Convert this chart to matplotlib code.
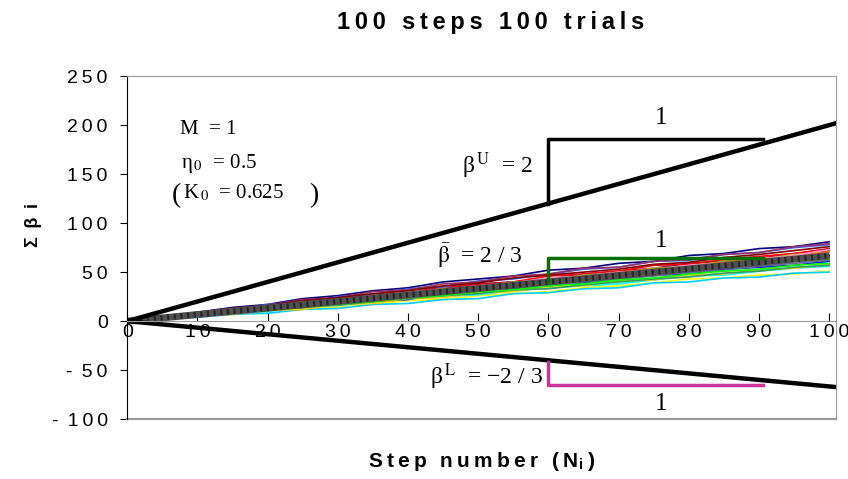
"""100 steps 100 trials: cumulative beta random walks with bounding slopes."""
import matplotlib
matplotlib.use("Agg")
import matplotlib.pyplot as plt

matplotlib.rcParams["font.family"] = ["Liberation Sans", "DejaVu Sans"]
matplotlib.rcParams["mathtext.fontset"] = "stix"

# --- data ---
steps = [0, 5, 10, 15, 20, 25, 30, 35, 40, 45, 50, 55, 60, 65, 70, 75, 80, 85, 90, 95, 100]
trials = [
    [0, 5, 9, 14, 17, 23, 26, 31, 34, 40, 43, 46, 52, 54, 59, 61, 67, 69, 74, 76, 81],
    [0, 2, 5, 7, 10, 12, 14, 17, 21, 22, 26, 28, 30, 34, 36, 39, 43, 44, 47, 48, 51],
    [0, 4, 7, 12, 14, 18, 21, 24, 29, 31, 34, 39, 42, 44, 49, 51, 56, 59, 61, 66, 69],
    [0, 2, 6, 8, 10, 14, 18, 19, 23, 25, 27, 31, 34, 36, 38, 42, 46, 47, 51, 54, 56],
    [0, 3, 8, 11, 14, 19, 22, 26, 28, 33, 38, 40, 43, 48, 51, 54, 59, 61, 64, 69, 72],
    [0, 3, 6, 10, 12, 14, 19, 21, 26, 28, 31, 35, 37, 41, 45, 47, 50, 55, 56, 61, 63],
    [0, 4, 7, 12, 15, 18, 23, 27, 29, 35, 37, 40, 46, 48, 51, 57, 58, 63, 66, 69, 74],
    [0, 3, 5, 9, 11, 13, 18, 20, 22, 28, 29, 33, 37, 39, 43, 47, 48, 53, 55, 57, 61],
    [0, 4, 9, 11, 17, 19, 25, 27, 33, 35, 41, 43, 48, 53, 55, 61, 62, 68, 70, 75, 78],
    [0, 3, 7, 9, 14, 15, 20, 24, 25, 31, 32, 37, 39, 42, 47, 48, 54, 55, 60, 62, 66],
    [0, 3, 6, 11, 12, 17, 21, 23, 28, 29, 35, 36, 41, 43, 48, 50, 55, 56, 61, 63, 67],
    [0, 2, 4, 7, 8, 12, 13, 17, 18, 22, 23, 28, 29, 33, 34, 39, 40, 44, 45, 49, 50],
    [0, 5, 8, 13, 16, 22, 24, 30, 32, 38, 40, 46, 48, 54, 55, 61, 63, 68, 70, 76, 79],
    [0, 3, 6, 10, 12, 17, 18, 24, 25, 30, 32, 37, 38, 43, 45, 50, 51, 57, 58, 63, 65],
    [0, 4, 6, 11, 13, 19, 20, 26, 27, 33, 34, 40, 41, 47, 49, 54, 56, 61, 63, 68, 70],
    [0, 2, 6, 7, 11, 12, 17, 18, 23, 24, 29, 30, 35, 36, 41, 42, 47, 48, 53, 54, 58],
    [0, 4, 7, 12, 13, 19, 20, 25, 27, 32, 34, 39, 41, 46, 48, 53, 54, 60, 61, 67, 69],
    [0, 3, 7, 9, 14, 16, 21, 22, 28, 29, 34, 36, 41, 42, 48, 49, 54, 56, 61, 62, 67],
    [0, 4, 8, 10, 15, 17, 21, 24, 27, 31, 36, 38, 43, 45, 50, 53, 56, 60, 64, 66, 71],
    [0, 2, 5, 9, 11, 15, 16, 20, 23, 26, 28, 32, 33, 37, 40, 43, 45, 49, 51, 55, 57],
    [0, 4, 8, 11, 15, 18, 22, 25, 30, 32, 36, 39, 44, 46, 50, 52, 57, 59, 63, 67, 73],
    [0, 3, 6, 9, 13, 16, 19, 21, 24, 27, 31, 34, 36, 40, 43, 46, 50, 52, 56, 59, 62],
    [0, 4, 9, 13, 16, 21, 24, 28, 31, 36, 39, 44, 47, 50, 53, 58, 60, 65, 68, 72, 76],
    [0, 2, 6, 8, 12, 14, 17, 20, 24, 26, 30, 32, 36, 38, 42, 44, 48, 51, 53, 57, 59],
]
trial_colors = ["#000080", "#FFFF00", "#FF00FF", "#00FFFF", "#800080", "#00CC00",
                "#FF0000", "#0000FF", "#3366FF", "#008080", "#FF9900", "#00CCFF",
                "#993366", "#333399", "#99CC00", "#FFCC00", "#CC99FF", "#000000",
                "#FF6600", "#339966", "#FF99CC", "#666699", "#800000", "#00FF00"]
mean_vals = [0, 3.3, 6.7, 10, 13.3, 16.7, 20, 23.3, 26.7, 30, 33.3,
             36.7, 40, 43.3, 46.7, 50, 53.3, 56.7, 60, 63.3, 66.7]

bound_x = [0, 101]
upper_y = [0, 202]      # beta^U = 2
lower_y = [0, -67.3]    # beta^L = -2/3

# slope triangles: corner points
tri_upper_x = [60, 60, 90.6]
tri_upper_y = [120, 186, 186]
tri_mean_x = [60, 60, 90.6]
tri_mean_y = [40, 64, 64]
tri_lower_x = [60, 60, 90.6]
tri_lower_y = [-42, -65.5, -65.5]

x_ticks = list(range(0, 101, 10))
y_ticks = list(range(-100, 251, 50))

TS = "\u2009"   # thin space used as letter tracking


def track(s):
    return TS.join(s)


def ylab(v):
    return "-" + TS + " " + track(str(-v)) if v < 0 else track(str(v))


fig = plt.figure(figsize=(8.48, 4.79), dpi=100)
ax = fig.add_axes([0.150, 0.125, 0.836, 0.716])

for tr, col in zip(trials, trial_colors):
    ax.plot(steps, tr, color=col, lw=1.2)
ax.plot(steps, mean_vals, color="#505050", lw=5, solid_capstyle="butt")
ax.plot(steps, mean_vals, color="#262626", lw=4, ls=(0, (0.4, 0.8)))

ax.plot(bound_x, upper_y, color="black", lw=3.2)
ax.plot(bound_x, lower_y, color="black", lw=3.2)

ax.plot(tri_upper_x, tri_upper_y, color="black", lw=2.5)
ax.plot(tri_mean_x, tri_mean_y, color="#007000", lw=2.5)
ax.plot(tri_lower_x, tri_lower_y, color="#CC3399", lw=2.5)

# annotations (Times-like)
serif = ["Liberation Serif", "DejaVu Serif"]
ax.text(7.5, 196, "M  = 1", fontsize=15, va="center", family=serif)
ax.text(7.7, 161, "η$_{\\,0}$  = 0.5", fontsize=15, va="center", family=serif)
ax.text(6.3, 128, "(", fontsize=20, va="center", family=serif)
ax.text(7.9, 131, "K$_{\\,0}$  = 0.625", fontsize=15, va="center", family=serif)
ax.text(27.3, 128, ")", fontsize=20, va="center", ha="right", family=serif)
ax.text(57.8, 159, "β$^{\\,\\mathrm{U}}$  = 2", fontsize=17, va="center", ha="right",
        family=serif)
ax.text(76, 207, "1", fontsize=18, ha="center", va="center", family=serif)
ax.text(56.3, 67, "$\\bar{\\mathrm{\\beta}}$  = 2 / 3", fontsize=17, va="center",
        ha="right", family=serif)
ax.text(76, 82, "1", fontsize=18, ha="center", va="center", family=serif)
ax.text(59.3, -57, "β$^{\\,\\mathrm{L}}$  = \u22122 / 3", fontsize=17, va="center",
        ha="right", family=serif)
ax.text(76, -85, "1", fontsize=18, ha="center", va="center", family=serif)

ax.set_xlim(0, 101)
ax.set_ylim(-100, 250)
ax.set_xticks(x_ticks)
ax.set_xticklabels([track(str(v)) for v in x_ticks])
ax.set_yticks(y_ticks)
ax.set_yticklabels([ylab(v) for v in y_ticks])

grey = "#999999"
ax.spines["bottom"].set_position(("data", 0))
ax.spines["bottom"].set_color(grey)
ax.spines["top"].set_color(grey)
ax.spines["right"].set_color(grey)
ax.spines["left"].set_color("black")
ax.plot([0, 1], [0, 0], transform=ax.transAxes, color=grey, lw=1.6, clip_on=False)

ax.tick_params(axis="x", direction="in", length=6, pad=2, labelsize=14, color="black")
ax.tick_params(axis="y", direction="out", length=5, pad=9, labelsize=14)

fig.text(0.578, 0.953, track("100 steps 100 trials"), fontsize=17, fontweight="bold",
         ha="center", va="center")
fig.text(0.568, 0.036, track("Step number (N") + "$_\\mathregular{i}$" + TS + ")",
         fontsize=15, fontweight="bold", ha="center", va="center")
fig.text(0.039, 0.53, "Σ" + TS + " β" + TS + " i", fontsize=13, fontweight="bold",
         rotation=90, ha="center", va="center")

fig.savefig("out.png", dpi=100)
